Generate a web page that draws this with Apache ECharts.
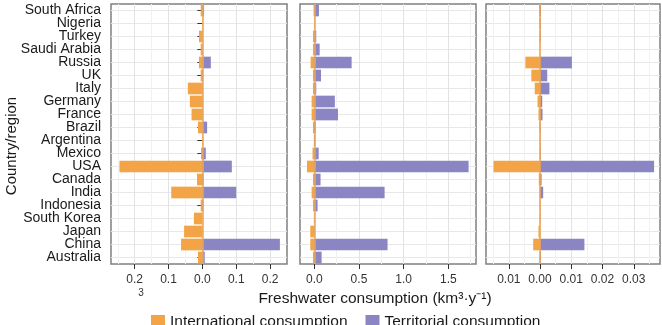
<!DOCTYPE html>
<html>
<head>
<meta charset="utf-8">
<script src="https://cdn.jsdelivr.net/npm/echarts@6/dist/echarts.min.js"></script>
<style>
html, body { margin: 0; padding: 0; background: #fff; }
#chart { width: 662px; height: 325px; }
</style>
</head>
<body>
<div id="chart"></div>
<script>
// countries, top to bottom
const countries = ['South Africa', 'Nigeria', 'Turkey', 'Saudi Arabia', 'Russia', 'UK', 'Italy', 'Germany', 'France', 'Brazil',
  'Argentina', 'Mexico', 'USA', 'Canada', 'India', 'Indonesia', 'South Korea', 'Japan', 'China', 'Australia'];

// panel 1
const intl1 = [-0.005, -0.001, -0.01, -0.005, -0.01, -0.005, -0.043, -0.037, -0.032, -0.013,
  -0.001, -0.004, -0.245, -0.016, -0.092, -0.005, -0.025, -0.054, -0.063, -0.013];
const terr1 = [0.005, 0, 0.001, 0.001, 0.025, 0.002, 0.001, 0.001, 0.001, 0.014,
  0, 0.01, 0.087, 0.003, 0.1, 0.003, 0, 0, 0.229, 0.007];
// panel 2
const intl2 = [-0.008, -0.003, -0.015, -0.015, -0.041, -0.015, -0.015, -0.03, -0.03, -0.015,
  -0.005, -0.02, -0.082, -0.015, -0.03, -0.015, -0.005, -0.045, -0.045, -0.015];
const terr2 = [0.052, 0.003, 0.022, 0.06, 0.418, 0.075, 0.022, 0.23, 0.265, 0.015,
  0.01, 0.049, 1.727, 0.07, 0.787, 0.037, 0.003, 0.005, 0.82, 0.082];
// panel 3
const intl3 = [-0.0003, -0.0002, -0.0002, -0.0001, -0.0047, -0.0028, -0.0017, -0.0008, -0.0005, -0.0002,
  -0.0001, -0.0001, -0.0149, -0.0004, -0.0001, -0.0001, -0.0001, -0.0005, -0.0022, -0.0001];
const terr3 = [0.0003, 0.0002, 0.0002, 0, 0.0102, 0.0023, 0.003, 0.0007, 0.0008, 0.0002,
  0.0001, 0.0002, 0.0365, 0.0005, 0.001, 0.0001, 0.0001, 0, 0.0142, 0.0003];

// axis ticks
const ticks1 = [-0.2, -0.1, 0, 0.1, 0.2];
const minor1 = [-0.25, -0.15, -0.05, 0.05, 0.15];
const ticks2 = [0, 0.5, 1, 1.5];
const minor2 = [0.25, 0.75, 1.25, 1.75];
const ticks3 = [-0.01, 0, 0.01, 0.02, 0.03];
const minor3 = [-0.015, -0.005, 0.005, 0.015, 0.025, 0.035];

const ORANGE = '#F2A447';
const PURPLE = '#8B86C3';
const FONT = 'Liberation Sans, Arial, sans-serif';

const panels = [
  {left: 111, width: 176, min: -0.27, max: 0.25, ticks: ticks1, minor: minor1, digits: 1, intl: intl1, terr: terr1},
  {left: 300, width: 176, min: -0.16, max: 1.81, ticks: ticks2, minor: minor2, digits: 1, intl: intl2, terr: terr2},
  {left: 486, width: 174, min: -0.0173, max: 0.0384, ticks: ticks3, minor: minor3, digits: 2, intl: intl3, terr: terr3}
];

const grid = [], xAxis = [], yAxis = [], series = [];
panels.forEach(function (p, i) {
  grid.push({
    left: p.left, top: 4, width: p.width, height: 260,
    show: true, backgroundColor: '#fff', borderColor: '#808080', borderWidth: 1.5,
    outerBoundsMode: 'none'
  });
  // major ticks + labels
  xAxis.push({
    type: 'value', gridIndex: i, min: p.min, max: p.max, position: 'bottom',
    axisLine: {show: false},
    axisTick: {show: true, length: 5, customValues: p.ticks, lineStyle: {color: '#333', width: 1}},
    axisLabel: {
      customValues: p.ticks, color: '#333', fontSize: 12, fontFamily: FONT, margin: 10,
      formatter: function (v) { return Math.abs(v).toFixed(p.digits); }
    },
    splitLine: {show: true, lineStyle: {color: '#E3E3E3', width: 1}}
  });
  // minor grid lines
  xAxis.push({
    type: 'value', gridIndex: i, min: p.min, max: p.max, position: 'bottom',
    axisLine: {show: false},
    axisTick: {show: false, customValues: p.minor},
    axisLabel: {show: false},
    splitLine: {show: true, lineStyle: {color: '#F1F1F1', width: 1}}
  });
  yAxis.push({
    type: 'category', gridIndex: i, data: countries, inverse: true,
    axisLine: {show: false},
    axisTick: {show: i === 0, interval: 0, alignWithLabel: true, length: 5, lineStyle: {color: '#333'}},
    axisLabel: {show: i === 0, interval: 0, color: '#1a1a1a', fontSize: 14, fontFamily: FONT, margin: 10},
    splitLine: {show: true, interval: 0, alignWithLabel: true, lineStyle: {color: '#E8E8E8', width: 1}}
  });
  series.push({
    name: 'International consumption', type: 'bar',
    xAxisIndex: 2 * i, yAxisIndex: i, barWidth: '90%', barGap: '-100%',
    itemStyle: {color: ORANGE},
    data: p.intl
  });
  series.push({
    name: 'Territorial consumption', type: 'bar',
    xAxisIndex: 2 * i, yAxisIndex: i, barWidth: '90%', barGap: '-100%',
    itemStyle: {color: PURPLE},
    data: p.terr,
    // orange zero line across the panel
    markLine: {
      silent: true, symbol: 'none', label: {show: false},
      lineStyle: {color: ORANGE, width: 1.5, type: 'solid'},
      data: [{xAxis: 0}]
    }
  });
});

const chart = echarts.init(document.getElementById('chart'));
chart.setOption({
  animation: false,
  textStyle: {fontFamily: FONT},
  grid: grid,
  xAxis: xAxis,
  yAxis: yAxis,
  series: series,
  legend: {
    data: ['International consumption', 'Territorial consumption'],
    left: 146, top: 309, itemWidth: 14, itemHeight: 14, itemGap: 18, icon: 'rect',
    textStyle: {fontSize: 15.5, color: '#1a1a1a', fontFamily: FONT}
  },
  graphic: [
    {type: 'text', x: 12, y: 146, rotation: Math.PI / 2,
      style: {text: 'Country/region', fontSize: 15, fontFamily: FONT, fill: '#1a1a1a', align: 'center', verticalAlign: 'middle'}},
    {type: 'text', x: 375, y: 299,
      style: {text: 'Freshwater consumption (km³·y⁻¹)', fontSize: 15.5, fontFamily: FONT, fill: '#1a1a1a', align: 'center', verticalAlign: 'middle'}},
    {type: 'text', x: 141, y: 293,
      style: {text: '3', fontSize: 10, fontFamily: FONT, fill: '#333', align: 'center', verticalAlign: 'middle'}}
  ]
});
window.addEventListener('resize', function () {
  chart.resize();
});
</script>
</body>
</html>
